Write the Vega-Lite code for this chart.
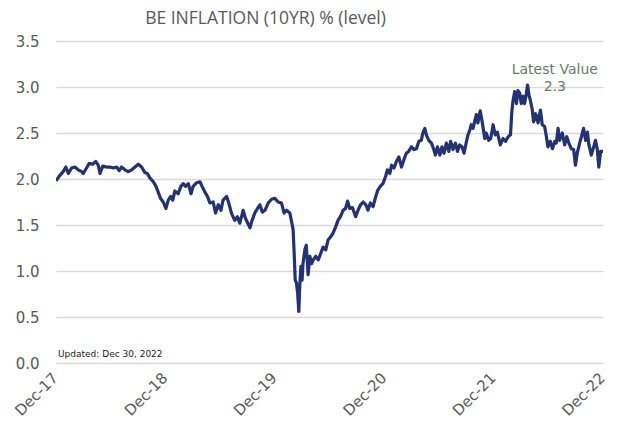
{
  "$schema": "https://vega.github.io/schema/vega-lite/v6.json",
  "autosize": {"type": "none"},
  "width": 547,
  "height": 322,
  "padding": {"left": 56, "top": 41, "right": 21, "bottom": 61},
  "background": "white",
  "title": {
    "text": "BE INFLATION (10YR) % (level)",
    "font": "Open Sans",
    "fontSize": 17.5,
    "fontWeight": "normal",
    "color": "#595959",
    "anchor": "middle",
    "dx": -64,
    "offset": 7
  },
  "config": {
    "view": {"stroke": null},
    "font": "DejaVu Sans",
    "axisX": {
      "title": null,
      "grid": false,
      "domain": false,
      "ticks": false,
      "labelFontSize": 15,
      "labelColor": "#595959",
      "labelPadding": 7,
      "labelOffset": -6,
      "labelFont": "DejaVu Sans",
      "labelOverlap": false,
      "labelFlush": false
    },
    "axisY": {
      "title": null,
      "grid": true,
      "gridColor": "#D9D9D9",
      "gridWidth": 1.5,
      "domain": false,
      "ticks": false,
      "labelFontSize": 15,
      "labelColor": "#595959",
      "labelPadding": 17,
      "labelFont": "DejaVu Sans"
    }
  },
  "layer": [
    {
      "data": {
        "values": [
          {"date": "2017-12-29", "value": 1.98},
          {"date": "2018-01-11", "value": 2.04},
          {"date": "2018-01-22", "value": 2.08},
          {"date": "2018-01-31", "value": 2.13},
          {"date": "2018-02-08", "value": 2.06},
          {"date": "2018-02-19", "value": 2.12},
          {"date": "2018-03-02", "value": 2.13},
          {"date": "2018-03-13", "value": 2.10},
          {"date": "2018-03-25", "value": 2.08},
          {"date": "2018-03-30", "value": 2.06},
          {"date": "2018-04-10", "value": 2.12},
          {"date": "2018-04-19", "value": 2.17},
          {"date": "2018-04-30", "value": 2.16},
          {"date": "2018-05-11", "value": 2.19},
          {"date": "2018-05-19", "value": 2.15},
          {"date": "2018-05-25", "value": 2.06},
          {"date": "2018-06-03", "value": 2.14},
          {"date": "2018-06-16", "value": 2.13},
          {"date": "2018-06-27", "value": 2.13},
          {"date": "2018-07-08", "value": 2.12},
          {"date": "2018-07-20", "value": 2.13},
          {"date": "2018-07-28", "value": 2.09},
          {"date": "2018-08-05", "value": 2.13},
          {"date": "2018-08-16", "value": 2.10},
          {"date": "2018-08-27", "value": 2.08},
          {"date": "2018-09-08", "value": 2.10},
          {"date": "2018-09-19", "value": 2.13},
          {"date": "2018-09-30", "value": 2.16},
          {"date": "2018-10-11", "value": 2.13},
          {"date": "2018-10-22", "value": 2.07},
          {"date": "2018-10-30", "value": 2.06},
          {"date": "2018-11-08", "value": 2.01},
          {"date": "2018-11-19", "value": 1.97},
          {"date": "2018-11-28", "value": 1.92},
          {"date": "2018-12-05", "value": 1.86},
          {"date": "2018-12-13", "value": 1.79},
          {"date": "2018-12-22", "value": 1.75},
          {"date": "2018-12-31", "value": 1.68},
          {"date": "2019-01-08", "value": 1.77},
          {"date": "2019-01-16", "value": 1.81},
          {"date": "2019-01-23", "value": 1.77},
          {"date": "2019-01-30", "value": 1.87},
          {"date": "2019-02-10", "value": 1.84},
          {"date": "2019-02-19", "value": 1.92},
          {"date": "2019-02-27", "value": 1.95},
          {"date": "2019-03-07", "value": 1.92},
          {"date": "2019-03-16", "value": 1.95},
          {"date": "2019-03-25", "value": 1.84},
          {"date": "2019-04-01", "value": 1.92},
          {"date": "2019-04-13", "value": 1.96},
          {"date": "2019-04-24", "value": 1.97},
          {"date": "2019-05-01", "value": 1.92},
          {"date": "2019-05-10", "value": 1.86},
          {"date": "2019-05-19", "value": 1.81},
          {"date": "2019-05-27", "value": 1.74},
          {"date": "2019-06-07", "value": 1.75},
          {"date": "2019-06-15", "value": 1.63},
          {"date": "2019-06-24", "value": 1.72},
          {"date": "2019-07-03", "value": 1.66},
          {"date": "2019-07-10", "value": 1.77},
          {"date": "2019-07-22", "value": 1.81},
          {"date": "2019-07-29", "value": 1.74},
          {"date": "2019-08-07", "value": 1.63},
          {"date": "2019-08-18", "value": 1.55},
          {"date": "2019-08-27", "value": 1.59},
          {"date": "2019-09-04", "value": 1.52},
          {"date": "2019-09-15", "value": 1.66},
          {"date": "2019-09-23", "value": 1.57},
          {"date": "2019-10-08", "value": 1.47},
          {"date": "2019-10-15", "value": 1.55},
          {"date": "2019-10-24", "value": 1.63},
          {"date": "2019-11-02", "value": 1.68},
          {"date": "2019-11-10", "value": 1.72},
          {"date": "2019-11-18", "value": 1.64},
          {"date": "2019-11-27", "value": 1.66},
          {"date": "2019-12-08", "value": 1.74},
          {"date": "2019-12-19", "value": 1.78},
          {"date": "2019-12-30", "value": 1.79},
          {"date": "2020-01-10", "value": 1.75},
          {"date": "2020-01-21", "value": 1.74},
          {"date": "2020-01-30", "value": 1.63},
          {"date": "2020-02-07", "value": 1.66},
          {"date": "2020-02-18", "value": 1.63},
          {"date": "2020-02-23", "value": 1.55},
          {"date": "2020-02-29", "value": 1.45},
          {"date": "2020-03-03", "value": 1.23},
          {"date": "2020-03-07", "value": 0.90},
          {"date": "2020-03-11", "value": 0.87},
          {"date": "2020-03-15", "value": 0.76},
          {"date": "2020-03-19", "value": 0.56},
          {"date": "2020-03-22", "value": 0.83},
          {"date": "2020-03-26", "value": 1.05},
          {"date": "2020-03-30", "value": 0.90},
          {"date": "2020-04-02", "value": 1.08},
          {"date": "2020-04-08", "value": 1.23},
          {"date": "2020-04-13", "value": 1.28},
          {"date": "2020-04-19", "value": 0.96},
          {"date": "2020-04-25", "value": 1.16},
          {"date": "2020-05-01", "value": 1.08},
          {"date": "2020-05-06", "value": 1.12},
          {"date": "2020-05-15", "value": 1.16},
          {"date": "2020-05-23", "value": 1.12},
          {"date": "2020-05-31", "value": 1.19},
          {"date": "2020-06-08", "value": 1.26},
          {"date": "2020-06-17", "value": 1.23},
          {"date": "2020-06-25", "value": 1.34},
          {"date": "2020-07-03", "value": 1.37},
          {"date": "2020-07-11", "value": 1.41},
          {"date": "2020-07-20", "value": 1.48},
          {"date": "2020-07-28", "value": 1.55},
          {"date": "2020-08-05", "value": 1.59},
          {"date": "2020-08-14", "value": 1.66},
          {"date": "2020-08-22", "value": 1.68},
          {"date": "2020-08-29", "value": 1.76},
          {"date": "2020-09-05", "value": 1.68},
          {"date": "2020-09-14", "value": 1.69},
          {"date": "2020-09-25", "value": 1.59},
          {"date": "2020-10-03", "value": 1.66},
          {"date": "2020-10-11", "value": 1.72},
          {"date": "2020-10-20", "value": 1.75},
          {"date": "2020-10-29", "value": 1.72},
          {"date": "2020-11-05", "value": 1.66},
          {"date": "2020-11-13", "value": 1.74},
          {"date": "2020-11-22", "value": 1.70},
          {"date": "2020-12-01", "value": 1.81},
          {"date": "2020-12-08", "value": 1.88},
          {"date": "2020-12-16", "value": 1.92},
          {"date": "2020-12-25", "value": 1.95},
          {"date": "2021-01-03", "value": 2.03},
          {"date": "2021-01-09", "value": 2.10},
          {"date": "2021-01-17", "value": 2.06},
          {"date": "2021-01-23", "value": 2.15},
          {"date": "2021-01-31", "value": 2.12},
          {"date": "2021-02-08", "value": 2.19},
          {"date": "2021-02-16", "value": 2.24},
          {"date": "2021-02-25", "value": 2.13},
          {"date": "2021-03-05", "value": 2.21},
          {"date": "2021-03-13", "value": 2.28},
          {"date": "2021-03-21", "value": 2.30},
          {"date": "2021-03-30", "value": 2.35},
          {"date": "2021-04-08", "value": 2.32},
          {"date": "2021-04-16", "value": 2.33},
          {"date": "2021-04-24", "value": 2.41},
          {"date": "2021-05-02", "value": 2.42},
          {"date": "2021-05-08", "value": 2.51},
          {"date": "2021-05-14", "value": 2.55},
          {"date": "2021-05-19", "value": 2.48},
          {"date": "2021-05-27", "value": 2.42},
          {"date": "2021-06-05", "value": 2.39},
          {"date": "2021-06-13", "value": 2.32},
          {"date": "2021-06-18", "value": 2.26},
          {"date": "2021-06-25", "value": 2.35},
          {"date": "2021-07-03", "value": 2.26},
          {"date": "2021-07-10", "value": 2.35},
          {"date": "2021-07-17", "value": 2.28},
          {"date": "2021-07-25", "value": 2.39},
          {"date": "2021-08-02", "value": 2.30},
          {"date": "2021-08-08", "value": 2.41},
          {"date": "2021-08-16", "value": 2.32},
          {"date": "2021-08-24", "value": 2.39},
          {"date": "2021-08-31", "value": 2.30},
          {"date": "2021-09-07", "value": 2.37},
          {"date": "2021-09-15", "value": 2.35},
          {"date": "2021-09-22", "value": 2.28},
          {"date": "2021-09-30", "value": 2.41},
          {"date": "2021-10-05", "value": 2.48},
          {"date": "2021-10-11", "value": 2.53},
          {"date": "2021-10-16", "value": 2.59},
          {"date": "2021-10-22", "value": 2.55},
          {"date": "2021-10-27", "value": 2.62},
          {"date": "2021-11-02", "value": 2.70},
          {"date": "2021-11-07", "value": 2.61},
          {"date": "2021-11-15", "value": 2.74},
          {"date": "2021-11-22", "value": 2.61},
          {"date": "2021-11-30", "value": 2.44},
          {"date": "2021-12-05", "value": 2.50},
          {"date": "2021-12-13", "value": 2.42},
          {"date": "2021-12-20", "value": 2.44},
          {"date": "2021-12-28", "value": 2.59},
          {"date": "2022-01-04", "value": 2.48},
          {"date": "2022-01-11", "value": 2.51},
          {"date": "2022-01-21", "value": 2.37},
          {"date": "2022-01-30", "value": 2.44},
          {"date": "2022-02-08", "value": 2.41},
          {"date": "2022-02-16", "value": 2.46},
          {"date": "2022-02-24", "value": 2.48},
          {"date": "2022-02-28", "value": 2.71},
          {"date": "2022-03-04", "value": 2.84},
          {"date": "2022-03-10", "value": 2.95},
          {"date": "2022-03-16", "value": 2.82},
          {"date": "2022-03-21", "value": 2.96},
          {"date": "2022-03-27", "value": 2.93},
          {"date": "2022-04-01", "value": 2.82},
          {"date": "2022-04-07", "value": 2.90},
          {"date": "2022-04-12", "value": 2.82},
          {"date": "2022-04-18", "value": 2.93},
          {"date": "2022-04-22", "value": 3.02},
          {"date": "2022-04-27", "value": 2.91},
          {"date": "2022-05-01", "value": 2.86},
          {"date": "2022-05-08", "value": 2.75},
          {"date": "2022-05-12", "value": 2.62},
          {"date": "2022-05-19", "value": 2.71},
          {"date": "2022-05-27", "value": 2.61},
          {"date": "2022-06-04", "value": 2.75},
          {"date": "2022-06-10", "value": 2.59},
          {"date": "2022-06-18", "value": 2.57},
          {"date": "2022-06-24", "value": 2.46},
          {"date": "2022-06-29", "value": 2.35},
          {"date": "2022-07-07", "value": 2.41},
          {"date": "2022-07-14", "value": 2.33},
          {"date": "2022-07-22", "value": 2.41},
          {"date": "2022-07-27", "value": 2.39},
          {"date": "2022-08-02", "value": 2.55},
          {"date": "2022-08-07", "value": 2.42},
          {"date": "2022-08-16", "value": 2.50},
          {"date": "2022-08-24", "value": 2.37},
          {"date": "2022-08-31", "value": 2.46},
          {"date": "2022-09-07", "value": 2.39},
          {"date": "2022-09-15", "value": 2.33},
          {"date": "2022-09-23", "value": 2.32},
          {"date": "2022-09-29", "value": 2.15},
          {"date": "2022-10-05", "value": 2.28},
          {"date": "2022-10-13", "value": 2.39},
          {"date": "2022-10-19", "value": 2.46},
          {"date": "2022-10-26", "value": 2.55},
          {"date": "2022-11-02", "value": 2.42},
          {"date": "2022-11-08", "value": 2.51},
          {"date": "2022-11-13", "value": 2.37},
          {"date": "2022-11-21", "value": 2.26},
          {"date": "2022-11-29", "value": 2.35},
          {"date": "2022-12-05", "value": 2.42},
          {"date": "2022-12-11", "value": 2.32},
          {"date": "2022-12-16", "value": 2.13},
          {"date": "2022-12-22", "value": 2.30},
          {"date": "2022-12-30", "value": 2.30}
        ]
      },
      "mark": {"type": "line", "color": "#233270", "strokeWidth": 3.2, "strokeJoin": "round", "clip": true},
      "encoding": {
        "x": {
          "field": "date",
          "type": "temporal",
          "scale": {"domain": [{"year": 2017, "month": 12, "date": 29}, {"year": 2022, "month": 12, "date": 30}]},
          "axis": {
            "format": "%b-%y",
            "labelAngle": -45,
            "labelAlign": "right",
            "labelBaseline": "top",
            "values": [
              {"year": 2017, "month": 12, "date": 29},
              {"year": 2018, "month": 12, "date": 30},
              {"year": 2019, "month": 12, "date": 30},
              {"year": 2020, "month": 12, "date": 30},
              {"year": 2021, "month": 12, "date": 30},
              {"year": 2022, "month": 12, "date": 30}
            ]
          }
        },
        "y": {
          "field": "value",
          "type": "quantitative",
          "scale": {"domain": [0, 3.5], "nice": false, "zero": true},
          "axis": {
            "values": [0, 0.5, 1, 1.5, 2, 2.5, 3, 3.5],
            "format": ".1f"
          }
        }
      }
    },
    {
      "data": {"values": [{"label": ["Latest Value", "2.3"]}]},
      "mark": {"type": "text", "font": "DejaVu Sans", "fontSize": 14, "color": "#687A68", "align": "center", "baseline": "middle", "lineHeight": 17},
      "encoding": {
        "x": {"datum": {"year": 2022, "month": 7, "date": 22}, "type": "temporal"},
        "y": {"datum": 3.18, "type": "quantitative"},
        "text": {"field": "label"}
      }
    },
    {
      "data": {"values": [{"label": "Updated: Dec 30, 2022"}]},
      "mark": {"type": "text", "font": "DejaVu Sans", "fontSize": 9, "color": "#222222", "align": "left", "baseline": "middle", "dx": 2},
      "encoding": {
        "x": {"datum": {"year": 2017, "month": 12, "date": 29}, "type": "temporal"},
        "y": {"datum": 0.1, "type": "quantitative"},
        "text": {"field": "label"}
      }
    }
  ]
}
